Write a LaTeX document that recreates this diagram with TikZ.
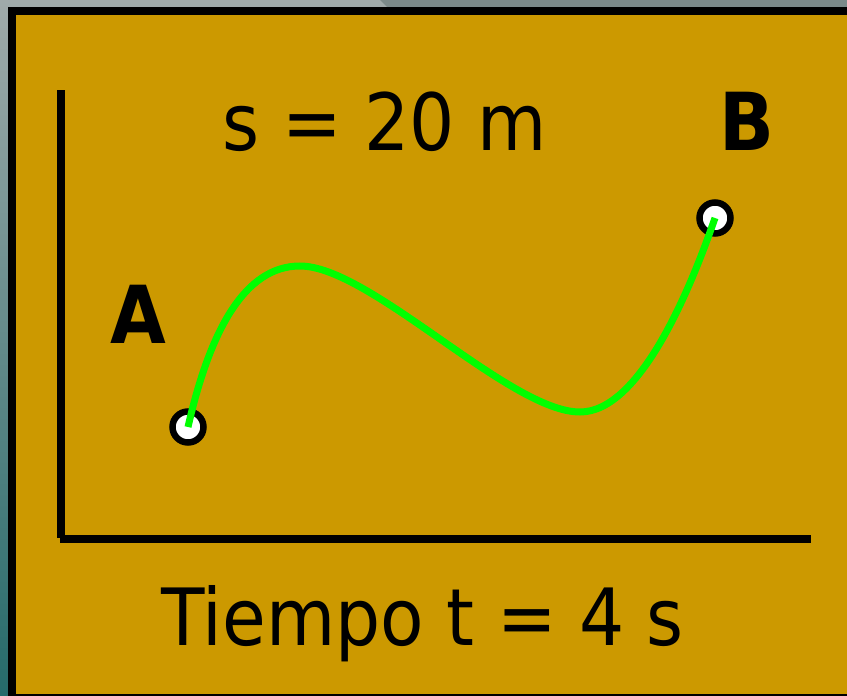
\documentclass[tikz,border=0pt]{standalone}
\usepackage{fontspec}
\setmainfont{DejaVu Sans Condensed}
\definecolor{panel}{HTML}{CC9900}
\definecolor{curvegreen}{HTML}{00FF00}
\definecolor{bggray}{HTML}{A0AAAA}
\definecolor{bgdark}{HTML}{7B8A8A}
\definecolor{bgteal}{HTML}{256A6A}
\tikzset{
  axisline/.style={line width=8pt},
  endpoint/.style={circle, draw=black, fill=white, line width=6.5pt, minimum size=31pt, inner sep=0pt},
  bigtext/.style={anchor=base, font=\fontsize{79}{90}\selectfont, inner sep=0pt},
  boldtext/.style={anchor=base, font=\fontsize{80}{90}\selectfont\bfseries, inner sep=0pt},
  motion/.style={curvegreen, line width=7pt}
}
\begin{document}
\begin{tikzpicture}[x=1pt,y=-1pt]
\useasboundingbox (0,0) rectangle (847,696);
\begin{scope}
\clip (0,0) rectangle (847,696);
\shade[top color=bggray, bottom color=bgteal] (0,0) rectangle (847,696);
\fill[bgdark] (380,0) -- (847,0) -- (847,8) -- (388,8) -- cycle;
\draw[fill=panel, line width=8pt] (12,11) rectangle (870,698);
\end{scope}
% axes
\draw[axisline] (60.5,90) -- (60.5,538);
\draw[axisline] (60,538.5) -- (811,538.5);
% labels
\node[bigtext] (s) at (384.5,150) {s = 20 m};
\node[bigtext] (t) at (423,645) {Tiempo t = 4 s};
\node[boldtext] (la) at (138,343) {A};
\node[boldtext] (lb) at (747,150) {B};
% endpoints
\node[endpoint] (A) at (188,427) {};
\node[endpoint] (B) at (715,218) {};
% path
\draw[motion] (A.center) .. controls (210,330) and (245,266) .. (300,266)
  .. controls (370,266) and (510,412) .. (580,412)
  .. controls (640,412) and (690,290) .. (B.center);
\end{tikzpicture}
\end{document}
